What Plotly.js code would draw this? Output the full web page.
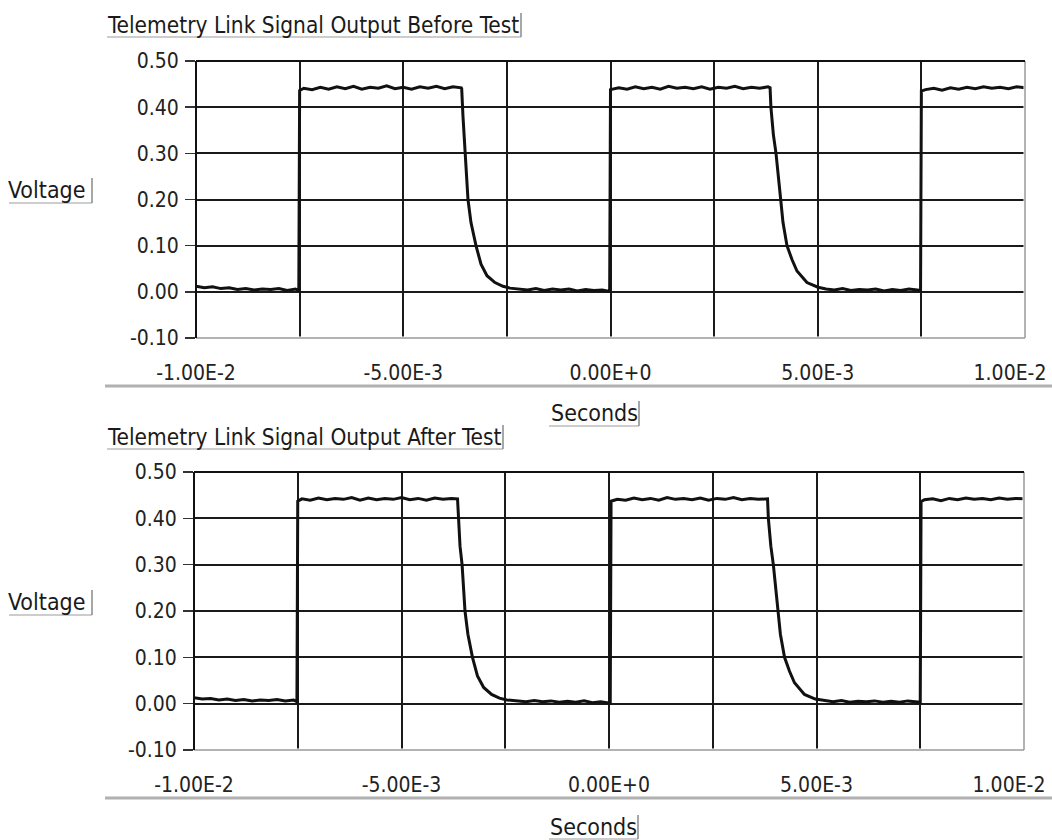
<!DOCTYPE html>
<html>
<head>
<meta charset="utf-8">
<script src="https://cdn.plot.ly/plotly-3.0.1.min.js"></script>
<style>html,body{margin:0;padding:0;background:#fff;}#chart{width:1052px;height:840px;}</style>
</head>
<body>
<div id="chart"></div>
<script>
// ---- Data (seconds, volts) ----
var beforeTime = [
  -0.0100,-0.0098,-0.0096,-0.0094,-0.0092,-0.0090,-0.0088,-0.0086,-0.0084,-0.0082,-0.0080,-0.0078,-0.0076,-0.00752,
  -0.00750,-0.0074,-0.0072,-0.0070,-0.0068,-0.0066,-0.0064,-0.0062,-0.0060,-0.0058,-0.0056,-0.0054,-0.0052,-0.0050,-0.0048,-0.0046,-0.0044,-0.0042,-0.0040,-0.0038,-0.0036,
  -0.00359,-0.003559,-0.003510,-0.003438,-0.003366,-0.003245,-0.003124,-0.002980,-0.002787,-0.002594,-0.002425,
  -0.0022,-0.0020,-0.0018,-0.0016,-0.0014,-0.0012,-0.0010,-0.0008,-0.0006,-0.0004,-0.0002,-0.00002,
  0.00000,0.0002,0.0004,0.0006,0.0008,0.0010,0.0012,0.0014,0.0016,0.0018,0.0020,0.0022,0.0024,0.0026,0.0028,0.0030,0.0032,0.0034,0.0036,0.0038,0.00385,
  0.00387,0.00393,0.003993,0.004106,0.004162,0.004258,0.004378,0.004499,0.004740,0.005006,
  0.0052,0.0054,0.0056,0.0058,0.0060,0.0062,0.0064,0.0066,0.0068,0.0070,0.0072,0.0074,0.00748,
  0.00750,0.0076,0.0078,0.0080,0.0082,0.0084,0.0086,0.0088,0.0090,0.0092,0.0094,0.0096,0.0098,0.0100
];
var beforeVolt = [
  0.012,0.009,0.011,0.007,0.009,0.005,0.007,0.004,0.006,0.005,0.007,0.003,0.006,0.002,
  0.436,0.441,0.438,0.443,0.439,0.444,0.440,0.445,0.439,0.443,0.441,0.446,0.440,0.443,0.439,0.444,0.441,0.445,0.440,0.444,0.442,
  0.44,0.38,0.30,0.20,0.15,0.10,0.06,0.035,0.02,0.012,0.008,
  0.006,0.004,0.007,0.003,0.006,0.004,0.006,0.002,0.005,0.003,0.004,0.001,
  0.438,0.442,0.439,0.444,0.440,0.443,0.439,0.445,0.441,0.443,0.440,0.444,0.439,0.443,0.441,0.445,0.440,0.443,0.441,0.444,0.442,
  0.40,0.34,0.30,0.20,0.15,0.10,0.07,0.045,0.02,0.01,
  0.006,0.004,0.007,0.003,0.005,0.004,0.006,0.002,0.005,0.003,0.006,0.004,0.003,
  0.435,0.438,0.441,0.437,0.442,0.439,0.443,0.440,0.444,0.441,0.443,0.440,0.444,0.442
];
var afterTime = [
  -0.0100,-0.0098,-0.0096,-0.0094,-0.0092,-0.0090,-0.0088,-0.0086,-0.0084,-0.0082,-0.0080,-0.0078,-0.0076,-0.00752,
  -0.0075,-0.0074,-0.0072,-0.0070,-0.0068,-0.0066,-0.0064,-0.0062,-0.0060,-0.0058,-0.0056,-0.0054,-0.0052,-0.0050,-0.0048,-0.0046,-0.0044,-0.0042,-0.0040,-0.0038,-0.00365,
  -0.00363,-0.00359,-0.00354,-0.00347,-0.00340,-0.00329,-0.00317,-0.00302,-0.00283,-0.00264,-0.00246,
  -0.0022,-0.0020,-0.0018,-0.0016,-0.0014,-0.0012,-0.0010,-0.0008,-0.0006,-0.0004,-0.0002,0.00003,
  0.00005,0.0002,0.0004,0.0006,0.0008,0.0010,0.0012,0.0014,0.0016,0.0018,0.0020,0.0022,0.0024,0.0026,0.0028,0.0030,0.0032,0.0034,0.0036,0.00382,
  0.00384,0.00390,0.00396,0.00407,0.00413,0.00423,0.00435,0.00447,0.00471,0.00497,
  0.0052,0.0054,0.0056,0.0058,0.0060,0.0062,0.0064,0.0066,0.0068,0.0070,0.0072,0.0074,0.00750,
  0.00752,0.0076,0.0078,0.0080,0.0082,0.0084,0.0086,0.0088,0.0090,0.0092,0.0094,0.0096,0.0098,0.0100
];
var afterVolt = [
  0.013,0.010,0.011,0.008,0.010,0.007,0.009,0.006,0.008,0.007,0.009,0.006,0.008,0.004,
  0.437,0.442,0.439,0.444,0.440,0.443,0.441,0.445,0.439,0.444,0.440,0.443,0.441,0.445,0.440,0.443,0.439,0.444,0.441,0.443,0.442,
  0.40,0.34,0.30,0.20,0.15,0.10,0.06,0.035,0.02,0.012,0.008,
  0.006,0.004,0.007,0.004,0.006,0.003,0.005,0.003,0.006,0.002,0.004,0.001,
  0.437,0.441,0.439,0.444,0.440,0.443,0.439,0.445,0.441,0.443,0.440,0.444,0.439,0.443,0.441,0.445,0.440,0.443,0.441,0.442,
  0.40,0.34,0.30,0.20,0.15,0.10,0.07,0.045,0.02,0.01,
  0.006,0.004,0.007,0.003,0.005,0.004,0.006,0.003,0.005,0.003,0.006,0.004,0.003,
  0.436,0.440,0.442,0.438,0.443,0.440,0.444,0.441,0.443,0.440,0.444,0.441,0.443,0.442
];
var xTickVals = [-0.01,-0.0075,-0.005,-0.0025,0,0.0025,0.005,0.0075,0.01];
var xTickText = ['-1.00E-2','','-5.00E-3','','0.00E+0','','5.00E-3','','1.00E-2'];
var yTickVals = [-0.1,0,0.1,0.2,0.3,0.4,0.5];
var yTickText = ['-0.10','0.00','0.10','0.20','0.30','0.40','0.50'];
var titleBefore = 'Telemetry Link Signal Output Before Test';
var titleAfter = 'Telemetry Link Signal Output After Test';
var yLabel = 'Voltage';
var xLabel = 'Seconds';

// ---- Layout ----
var FONT = '"DejaVu Sans Condensed", "DejaVu Sans", sans-serif';
var W = 1052, H = 840, ML = 194, MR = 27;
var PW = W - ML - MR;
function px(x){ return (x - ML) / PW; }
function py(y){ return 1 - y / H; }
var EPS = 1e-9;
var LAST = xTickVals.length - 1;
// main axis shows every label except the right-most one, which is shifted inward (as in the reference)
var mainText = xTickText.slice(0, LAST).concat(['']);

function xa(domain, anchor){
  return {domain: domain, anchor: anchor, range: [-0.01 - EPS, 0.01 + EPS], tickmode: 'array',
    tickvals: xTickVals, ticktext: mainText, showgrid: true, gridcolor: '#1a1a1a', gridwidth: 2,
    zeroline: false, showline: false, ticks: '', ticklabelstandoff: 20,
    tickfont: {family: FONT, size: 21, color: '#222'}, fixedrange: true};
}
function xEdge(overlay, anchor){
  return {overlaying: overlay, anchor: anchor, side: 'bottom', range: [-0.01 - EPS, 0.01 + EPS], tickmode: 'array',
    tickvals: [xTickVals[LAST]], ticktext: [xTickText[LAST]], showgrid: false, zeroline: false, showline: false,
    ticks: '', ticklabelstandoff: 20, ticklabelshift: -15, ticklabeloverflow: 'allow',
    tickfont: {family: FONT, size: 21, color: '#222'}, fixedrange: true};
}
function ya(domain, anchor){
  return {domain: domain, anchor: anchor, range: [-0.1, 0.5], tickmode: 'array',
    tickvals: yTickVals, ticktext: yTickText, showgrid: true, gridcolor: '#1a1a1a', gridwidth: 2,
    zeroline: false, showline: false, ticks: 'outside', ticklen: 10, tickwidth: 1.5, tickcolor: '#333',
    ticklabelstandoff: 2,
    tickfont: {family: FONT, size: 21, color: '#222'}, fixedrange: true};
}

var traces = [
  {x: beforeTime, y: beforeVolt, xaxis: 'x', yaxis: 'y', mode: 'lines', line: {color: '#111', width: 3}, hoverinfo: 'skip'},
  {x: afterTime, y: afterVolt, xaxis: 'x2', yaxis: 'y2', mode: 'lines', line: {color: '#111', width: 3}, hoverinfo: 'skip'},
  {x: [], y: [], xaxis: 'x3', yaxis: 'y', mode: 'lines', hoverinfo: 'skip'},
  {x: [], y: [], xaxis: 'x4', yaxis: 'y2', mode: 'lines', hoverinfo: 'skip'}
];

function frame(xr, yr){
  var s = [];
  s.push({type:'line', xref: xr+' domain', yref: yr+' domain', x0:1, x1:1, y0:0, y1:1, line:{color:'#fff', width:3}, layer:'above'});
  s.push({type:'line', xref: xr+' domain', yref: yr+' domain', x0:0, x1:1, y0:0, y1:0, line:{color:'#fff', width:3}, layer:'above'});
  s.push({type:'line', xref: xr+' domain', yref: yr+' domain', x0:1, x1:1, y0:0, y1:1, line:{color:'#9a9a9a', width:1.5}, layer:'above'});
  s.push({type:'line', xref: xr+' domain', yref: yr+' domain', x0:0, x1:1, y0:0, y1:0, line:{color:'#9a9a9a', width:1.5}, layer:'above'});
  s.push({type:'line', xref: xr+' domain', yref: yr+' domain', x0:0, x1:1, y0:1, y1:1, line:{color:'#111', width:2}, layer:'above'});
  s.push({type:'line', xref: xr+' domain', yref: yr+' domain', x0:0, x1:0, y0:0, y1:1, line:{color:'#111', width:2}, layer:'above'});
  return s;
}
var shapes = frame('x','y').concat(frame('x2','y2'));
// scale separator lines under x tick labels
shapes.push({type:'line', xref:'paper', yref:'paper', x0:px(105), x1:px(1052), y0:py(386), y1:py(386), line:{color:'#b0b0b0', width:3}});
shapes.push({type:'line', xref:'paper', yref:'paper', x0:px(105), x1:px(1052), y0:py(798), y1:py(798), line:{color:'#b0b0b0', width:3}});
// label frames (underline + right edge), LabVIEW style
function labelBox(x0, x1, y0, y1){
  shapes.push({type:'line', xref:'paper', yref:'paper', x0:px(x0), x1:px(x1), y0:py(y1), y1:py(y1), line:{color:'#bdbdbd', width:1.5}});
  shapes.push({type:'line', xref:'paper', yref:'paper', x0:px(x1), x1:px(x1), y0:py(y0), y1:py(y1), line:{color:'#8a8a8a', width:1.5}});
}
labelBox(107, 521, 13, 37);
labelBox(107, 503, 425, 449);
labelBox(9, 92, 178, 203);
labelBox(9, 92, 590, 615);
labelBox(549, 639, 401, 426);
labelBox(549, 638, 815, 839);

function ann(text, x, y, xanchor, size){
  return {text: text, xref:'paper', yref:'paper', x: px(x), y: py(y), xanchor: xanchor, yanchor:'middle',
    showarrow:false, borderpad: 0, font:{family: FONT, size: size, color:'#1a1a1a'}};
}
var annotations = [
  ann(titleBefore, 106, 25, 'left', 22.5),
  ann(titleAfter, 106, 437, 'left', 22.5),
  ann(yLabel, 7, 190, 'left', 23),
  ann(yLabel, 7, 602, 'left', 23),
  ann(xLabel, 594, 413, 'center', 23),
  ann(xLabel, 593, 827, 'center', 23)
];

var layout = {
  width: W, height: H,
  margin: {l: ML, r: MR, t: 0, b: 0, pad: 0},
  paper_bgcolor: '#fff', plot_bgcolor: '#fff',
  showlegend: false,
  xaxis: xa([2/PW, 1], 'y'),
  yaxis: ya([py(338), py(61)], 'x'),
  xaxis2: xa([0, (PW-1)/PW], 'y2'),
  yaxis2: ya([py(750), py(472)], 'x2'),
  xaxis3: xEdge('x', 'y'),
  xaxis4: xEdge('x2', 'y2'),
  shapes: shapes,
  annotations: annotations
};

Plotly.newPlot('chart', traces, layout, {displayModeBar: false, staticPlot: true});
</script>
</body>
</html>
